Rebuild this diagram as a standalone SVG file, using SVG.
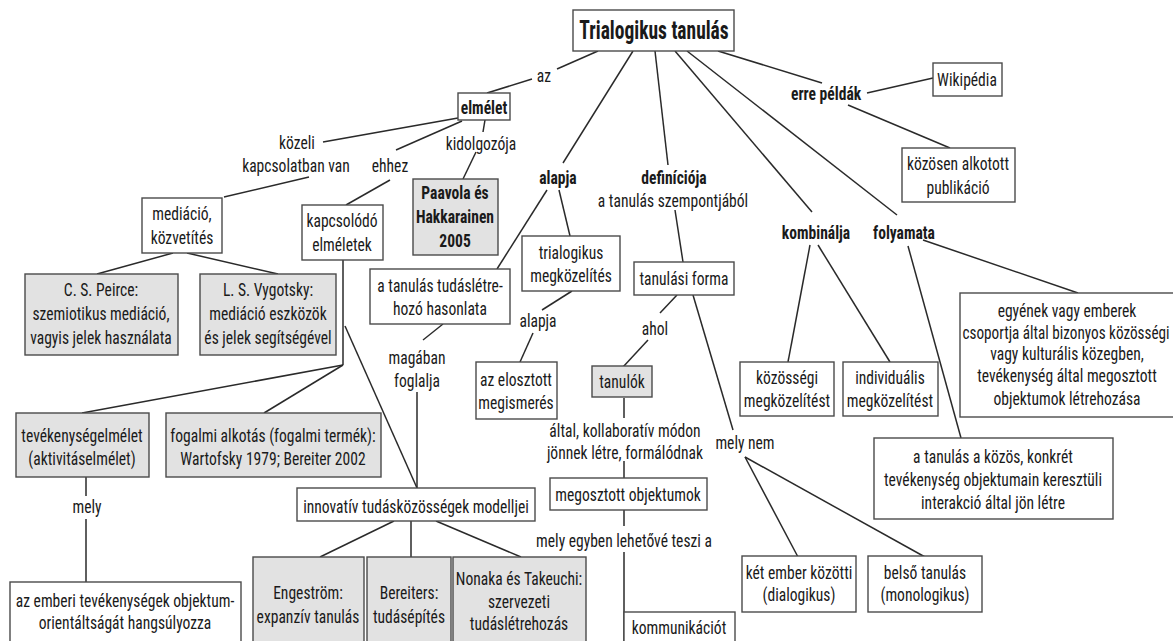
<svg xmlns="http://www.w3.org/2000/svg" width="1173" height="641" viewBox="0 0 1173 641">
<style>
text{font-family:"Liberation Sans Narrow","Roboto Condensed","DejaVu Sans Condensed","Liberation Sans",sans-serif;font-size:19px;fill:#1a1a1a;text-anchor:middle;transform-box:fill-box;transform-origin:center;transform:scaleX(.82)}
.b{font-weight:bold}
.t{font-size:25px;font-weight:bold;transform:scaleX(.78)}
.n{transform:scaleX(.8)}
rect{fill:#fff;stroke:#4a4a4a;stroke-width:1.4}
rect.g{fill:#e2e2e2}
#connectors line{stroke:#2a2a2a;stroke-width:1.5}
</style>
<rect x="0" y="0" width="1173" height="641" style="fill:#fff;stroke:none"/>
<g id="connectors">
<line x1="598" y1="51" x2="557" y2="69"/>
<line x1="532" y1="79" x2="487" y2="93"/>
<line x1="458" y1="118" x2="323" y2="142"/>
<line x1="462" y1="121" x2="396" y2="150"/>
<line x1="485" y1="120" x2="483" y2="132"/>
<line x1="476" y1="152" x2="463" y2="179"/>
<line x1="309" y1="177" x2="224" y2="197"/>
<line x1="390" y1="180" x2="346" y2="205"/>
<line x1="173" y1="253" x2="97" y2="274"/>
<line x1="187" y1="253" x2="278" y2="274"/>
<line x1="343" y1="260" x2="343" y2="365"/>
<line x1="343" y1="365" x2="82" y2="413"/>
<line x1="343" y1="365" x2="264" y2="413"/>
<line x1="345" y1="326" x2="417" y2="488"/>
<line x1="633" y1="51" x2="563" y2="163"/>
<line x1="547" y1="190" x2="497" y2="269"/>
<line x1="559" y1="190" x2="570" y2="236"/>
<line x1="572" y1="291" x2="542" y2="310"/>
<line x1="533" y1="333" x2="520" y2="362"/>
<line x1="443" y1="324" x2="423" y2="340"/>
<line x1="417" y1="392" x2="417" y2="488"/>
<line x1="655" y1="51" x2="668" y2="165"/>
<line x1="675" y1="210" x2="683" y2="262"/>
<line x1="677" y1="295" x2="660" y2="313"/>
<line x1="648" y1="340" x2="623" y2="367"/>
<line x1="693" y1="295" x2="733" y2="430"/>
<line x1="745" y1="457" x2="798" y2="557"/>
<line x1="745" y1="457" x2="925" y2="557"/>
<line x1="624" y1="398" x2="624" y2="418"/>
<line x1="624" y1="461" x2="624" y2="479"/>
<line x1="624" y1="510" x2="624" y2="526"/>
<line x1="624" y1="552" x2="624" y2="641"/>
<line x1="675" y1="51" x2="812" y2="212"/>
<line x1="687" y1="51" x2="897" y2="215"/>
<line x1="718" y1="51" x2="822" y2="83"/>
<line x1="867" y1="93" x2="933" y2="78"/>
<line x1="848" y1="105" x2="950" y2="148"/>
<line x1="810" y1="245" x2="788" y2="362"/>
<line x1="818" y1="245" x2="890" y2="362"/>
<line x1="908" y1="246" x2="961" y2="438"/>
<line x1="923" y1="240" x2="1078" y2="293"/>
<line x1="86" y1="477" x2="86" y2="496"/>
<line x1="86" y1="519" x2="86" y2="582"/>
<line x1="394" y1="521" x2="320" y2="557"/>
<line x1="411" y1="521" x2="411" y2="557"/>
<line x1="436" y1="521" x2="521" y2="557"/>
</g>
<g id="labels">
<text x="544" y="82">az</text>
<text x="297" y="149">közeli</text>
<text x="296" y="172">kapcsolatban van</text>
<text x="390" y="172">ehhez</text>
<text x="481" y="150">kidolgozója</text>
<text class="b" x="558" y="184">alapja</text>
<text class="b" x="674" y="184">definíciója</text>
<text x="673" y="207">a tanulás szempontjából</text>
<text x="538" y="327">alapja</text>
<text x="655" y="335">ahol</text>
<text x="417" y="364">magában</text>
<text x="417" y="387">foglalja</text>
<text x="625" y="437">által, kollaboratív módon</text>
<text x="625" y="459">jönnek létre, formálódnak</text>
<text x="624" y="547">mely egyben lehetővé teszi a</text>
<text x="745" y="449">mely nem</text>
<text x="87" y="513">mely</text>
<text class="b" x="826" y="100">erre példák</text>
<text class="b" x="816" y="239">kombinálja</text>
<text class="b" x="904" y="239">folyamata</text>
</g>
<g id="n-title"><rect x="573" y="10" width="161" height="41"/><text class="t" x="654" y="39">Trialogikus tanulás</text></g>
<g id="n-elmelet"><rect x="458" y="93" width="52" height="27"/><text class="b" x="484" y="114">elmélet</text></g>
<g id="n-paavola"><rect class="g" x="413" y="179" width="85" height="76"/><text class="b" x="455" y="199">Paavola és</text><text class="b" x="455" y="223">Hakkarainen</text><text class="b" x="455" y="247">2005</text></g>
<g id="n-mediacio"><rect x="142" y="198" width="80" height="55"/><text x="182" y="220">mediáció,</text><text x="182" y="244">közvetítés</text></g>
<g id="n-kapcsolodo"><rect x="302" y="205" width="81" height="55"/><text x="342" y="227">kapcsolódó</text><text x="342" y="251">elméletek</text></g>
<g id="n-peirce"><rect class="g" x="25" y="274" width="153" height="81"/><text x="101" y="296">C. S. Peirce:</text><text x="101" y="320">szemiotikus mediáció,</text><text x="101" y="344">vagyis jelek használata</text></g>
<g id="n-vygotsky"><rect class="g" x="200" y="274" width="136" height="81"/><text x="268" y="296">L. S. Vygotsky:</text><text x="268" y="320">mediáció eszközök</text><text x="268" y="344">és jelek segítségével</text></g>
<g id="n-hasonlata"><rect x="370" y="269" width="140" height="55"/><text x="440" y="292">a tanulás tudáslétre-</text><text x="440" y="315">hozó hasonlata</text></g>
<g id="n-trialogikus"><rect x="522" y="236" width="98" height="55"/><text x="571" y="259">trialogikus</text><text x="571" y="282">megközelítés</text></g>
<g id="n-forma"><rect x="634" y="262" width="100" height="33"/><text x="684" y="285">tanulási forma</text></g>
<g id="n-elosztott"><rect x="476" y="362" width="81" height="57"/><text x="516" y="386">az elosztott</text><text x="516" y="409">megismerés</text></g>
<g id="n-tanulok"><rect class="g" x="592" y="366" width="60" height="31"/><text x="622" y="388">tanulók</text></g>
<g id="n-kozosen"><rect x="902" y="148" width="113" height="54"/><text x="958" y="170">közösen alkotott</text><text x="958" y="194">publikáció</text></g>
<g id="n-wikipedia"><rect x="933" y="63" width="69" height="33"/><text x="967" y="86">Wikipédia</text></g>
<g id="n-egyenek"><rect x="960" y="293" width="225" height="124"/><text x="1067" y="317">egyének vagy emberek</text><text class="n" x="1066" y="339">csoportja által bizonyos közösségi</text><text x="1067" y="360">vagy kulturális közegben,</text><text x="1067" y="382">tevékenység által megosztott</text><text x="1067" y="405">objektumok létrehozása</text></g>
<g id="n-kozossegi"><rect x="740" y="362" width="94" height="54"/><text x="787" y="384">közösségi</text><text x="787" y="407">megközelítést</text></g>
<g id="n-individualis"><rect x="843" y="362" width="95" height="54"/><text x="890" y="384">individuális</text><text x="890" y="407">megközelítést</text></g>
<g id="n-kozos"><rect x="874" y="438" width="239" height="81"/><text x="993" y="463">a tanulás a közös, konkrét</text><text x="993" y="486">tevékenység objektumain keresztüli</text><text x="993" y="509">interakció által jön létre</text></g>
<g id="n-tevekenyseg"><rect class="g" x="16" y="413" width="133" height="64"/><text x="82" y="442">tevékenységelmélet</text><text x="82" y="465">(aktivitáselmélet)</text></g>
<g id="n-fogalmi"><rect class="g" x="166" y="413" width="215" height="64"/><text x="273" y="442">fogalmi alkotás (fogalmi termék):</text><text x="273" y="465">Wartofsky 1979; Bereiter 2002</text></g>
<g id="n-innovativ"><rect x="297" y="488" width="238" height="33"/><text x="416" y="513">innovatív tudásközösségek modelljei</text></g>
<g id="n-engestrom"><rect class="g" x="253" y="557" width="111" height="95"/><text x="308" y="599">Engeström:</text><text x="308" y="623">expanzív tanulás</text></g>
<g id="n-bereiters"><rect class="g" x="367" y="557" width="84" height="95"/><text x="409" y="599">Bereiters:</text><text x="409" y="623">tudásépítés</text></g>
<g id="n-nonaka"><rect class="g" x="453" y="557" width="133" height="95"/><text x="519" y="585">Nonaka és Takeuchi:</text><text x="519" y="608">szervezeti</text><text x="519" y="630">tudáslétrehozás</text></g>
<g id="n-emberi"><rect x="10" y="582" width="231" height="80"/><text x="125" y="607">az emberi tevékenységek objektum-</text><text x="125" y="629">orientáltságát hangsúlyozza</text></g>
<g id="n-megosztott"><rect x="550" y="478" width="157" height="32"/><text x="628" y="501">megosztott objektumok</text></g>
<g id="n-kommunikaciot"><rect x="624" y="612" width="111" height="40"/><text x="679" y="634">kommunikációt</text></g>
<g id="n-ketember"><rect x="742" y="556" width="114" height="56"/><text x="799" y="579">két ember közötti</text><text x="799" y="601">(dialogikus)</text></g>
<g id="n-belso"><rect x="868" y="556" width="114" height="56"/><text x="925" y="579">belső tanulás</text><text x="925" y="601">(monologikus)</text></g>
</svg>
